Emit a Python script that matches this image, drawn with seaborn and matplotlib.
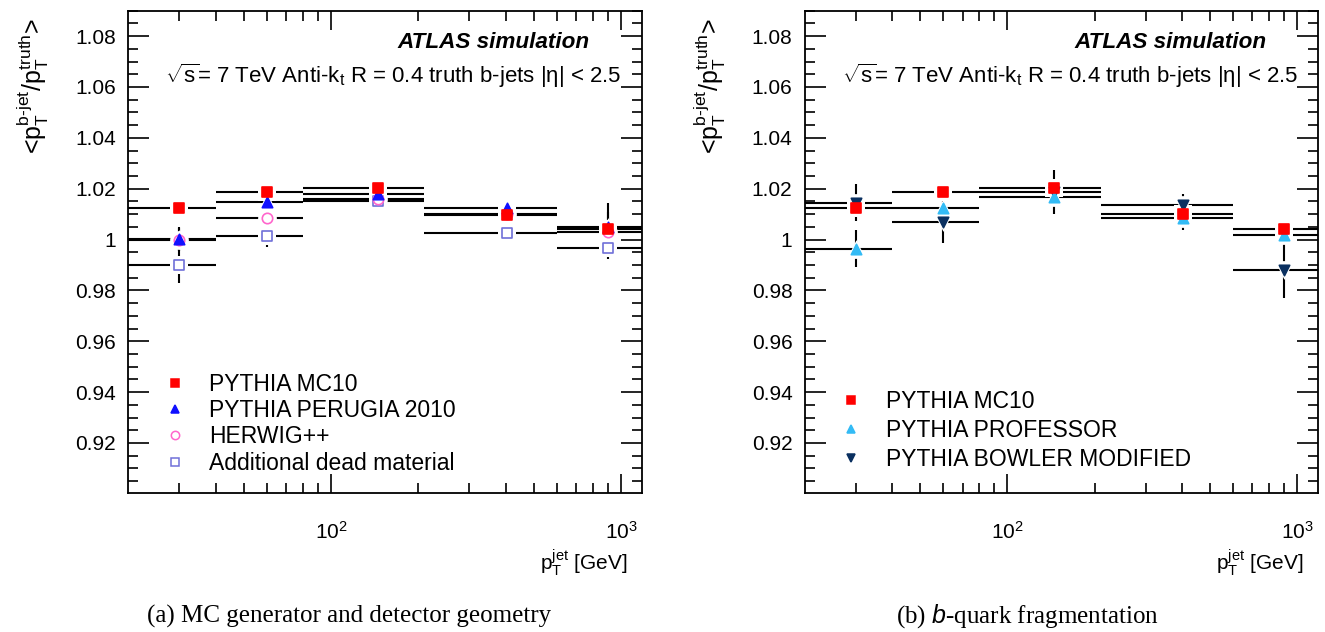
import numpy as np
import pandas as pd
import matplotlib
matplotlib.use("Agg")
import matplotlib.pyplot as plt
from matplotlib.lines import Line2D
from matplotlib.ticker import FixedLocator, NullFormatter, FuncFormatter
import seaborn as sns

# ---------------- data ----------------
bin_edges = [20, 40, 80, 210, 600, 1200]
bin_centers = [30, 60, 145, 405, 900]

# panel (a)
mc10_a = [1.0123, 1.0188, 1.0202, 1.0098, 1.0043]
mc10_a_err = [0.0006, 0.0006, 0.0006, 0.0006, 0.0006]
perugia = [1.0002, 1.0149, 1.0180, 1.0125, 1.0049]
perugia_err = [0.0047, 0.0010, 0.0010, 0.0008, 0.0095]
herwig = [1.0000, 1.0084, 1.0159, 1.0102, 1.0030]
herwig_err = [0.0045, 0.0034, 0.0010, 0.0008, 0.0080]
deadmat = [0.9899, 1.0014, 1.0153, 1.0026, 0.9966]
deadmat_err = [0.0069, 0.0045, 0.0035, 0.0008, 0.0042]

# panel (b)
mc10_b = [1.0125, 1.0188, 1.0202, 1.0102, 1.0042]
mc10_b_err = [0.0006, 0.0006, 0.0006, 0.0006, 0.0006]
professor = [0.9963, 1.0124, 1.0167, 1.0085, 1.0018]
professor_err = [0.0073, 0.0015, 0.0012, 0.0049, 0.0010]
bowler = [1.0144, 1.0069, 1.0187, 1.0135, 0.9880]
bowler_err = [0.0073, 0.0082, 0.0085, 0.0043, 0.0110]

labels_a = ["PYTHIA MC10", "PYTHIA PERUGIA 2010", "HERWIG++", "Additional dead material"]
labels_b = ["PYTHIA MC10", "PYTHIA PROFESSOR", "PYTHIA BOWLER MODIFIED"]

y_major = [0.92, 0.94, 0.96, 0.98, 1.00, 1.02, 1.04, 1.06, 1.08]

# ---------------- style ----------------
sns.set_theme(style="ticks")
plt.rcParams['font.family'] = ['Liberation Sans', 'DejaVu Sans']
plt.rcParams['mathtext.fontset'] = 'custom'
plt.rcParams['mathtext.rm'] = 'Liberation Sans'
plt.rcParams['mathtext.it'] = 'Liberation Sans:italic'
plt.rcParams['mathtext.bf'] = 'Liberation Sans:bold'
plt.rcParams['mathtext.sf'] = 'Liberation Sans'
plt.rcParams['text.color'] = 'black'
plt.rcParams['axes.labelcolor'] = 'black'
plt.rcParams['xtick.color'] = 'black'
plt.rcParams['ytick.color'] = 'black'

fig = plt.figure(figsize=(13.25, 6.32), dpi=100)
ax_a = fig.add_axes([0.0968, 0.2199, 0.3877, 0.7632])
ax_b = fig.add_axes([0.6075, 0.2199, 0.3872, 0.7632])

series_a = [
    (labels_a[3], deadmat, deadmat_err, 's', 'white', '#7070d8', 7.2),
    (labels_a[2], herwig, herwig_err, 'o', 'white', '#ff66cc', 7.5),
    (labels_a[1], perugia, perugia_err, '^', '#1010ff', '#1010ff', 7.5),
    (labels_a[0], mc10_a, mc10_a_err, 's', '#ff0000', '#ff0000', 7.2),
]
series_b = [
    (labels_b[2], bowler, bowler_err, 'v', '#0a3060', '#0a3060', 7.5),
    (labels_b[1], professor, professor_err, '^', '#33bbf5', '#33bbf5', 7.5),
    (labels_b[0], mc10_b, mc10_b_err, 's', '#ff0000', '#ff0000', 7.2),
]

lo_edges = bin_edges[:-1]
hi_edges = bin_edges[1:]


def draw_panel(ax, series):
    # bin-width lines and error bars
    for name, vals, errs, mk, fc, ec, ms in series:
        ax.hlines(vals, lo_edges, hi_edges, colors='black', lw=1.5, zorder=2)
        v = np.array(vals)
        e = np.array(errs)
        ax.vlines(bin_centers, v - e, v + e, colors='black', lw=1.5, zorder=2)
    # white halos to make the ROOT-style gaps around markers
    for name, vals, errs, mk, fc, ec, ms in series:
        df = pd.DataFrame({"x": bin_centers, "y": vals})
        sns.scatterplot(data=df, x="x", y="y", ax=ax, marker=mk, s=(ms + 6) ** 2,
                        color='white', edgecolor='white', linewidth=0, zorder=3, legend=False)
    # markers
    for i, (name, vals, errs, mk, fc, ec, ms) in enumerate(series):
        df = pd.DataFrame({"x": bin_centers, "y": vals})
        sns.scatterplot(data=df, x="x", y="y", ax=ax, marker=mk, s=ms ** 2,
                        color=fc, edgecolor=ec, linewidth=1.2, zorder=4 + i, legend=False)

    ax.set_xscale('log')
    ax.set_xlim(20, 1180)
    ax.set_ylim(0.9003, 1.09)
    ax.set_xticks([100, 1000])
    ax.set_xticklabels([r'$10^{2}$', r'$10^{3}$'])
    minors = [30, 40, 50, 60, 70, 80, 90, 200, 300, 400, 500, 600, 700, 800, 900]
    ax.xaxis.set_minor_locator(FixedLocator(minors))
    ax.xaxis.set_minor_formatter(NullFormatter())
    ax.set_yticks(y_major)
    ax.yaxis.set_major_formatter(FuncFormatter(lambda v, p: f"{v:g}"))
    ax.yaxis.set_minor_locator(FixedLocator(np.arange(0.905, 1.0901, 0.005)))
    ax.tick_params(axis='both', which='both', direction='in', top=True, right=True,
                   color='black', labelcolor='black', width=1.2)
    ax.tick_params(axis='y', which='major', length=15, labelsize=15, pad=9)
    ax.tick_params(axis='y', which='minor', length=7.5)
    ax.tick_params(axis='x', which='major', length=14, labelsize=15, pad=20)
    ax.tick_params(axis='x', which='minor', length=7)
    for sp in ax.spines.values():
        sp.set_linewidth(1.3)
        sp.set_color('black')
    ax.set_xlabel(r'p$_{\mathrm{T}}^{\mathrm{jet}}$ [GeV]', fontsize=15, ha='right')
    ax.xaxis.set_label_coords(0.972, -0.112)
    ax.set_ylabel(r'<p$_{\mathrm{T}}^{\mathrm{b\text{-}jet}}$/p$_{\mathrm{T}}^{\mathrm{truth}}$>',
                  fontsize=18, ha='right')
    ax.yaxis.set_label_coords(-0.15, 0.985)
    ax.text(0.899, 0.935, 'ATLAS simulation', transform=ax.transAxes, ha='right', va='center',
            fontsize=16.2, fontweight='bold', fontstyle='italic')
    ax.text(0.0713, 0.865,
            r'$\sqrt{\mathrm{s}}$= 7 TeV Anti-k$_{\mathrm{t}}$ R = 0.4 truth b-jets |$\mathrm{\eta}$| < 2.5',
            transform=ax.transAxes, ha='left', va='center', fontsize=16.0)


draw_panel(ax_a, series_a)
draw_panel(ax_b, series_b)

# legends
def legend_handles(series, order):
    hs = []
    for idx in order:
        name, vals, errs, mk, fc, ec, ms = series[idx]
        hs.append(Line2D([], [], linestyle='none', marker=mk, markersize=6,
                         markerfacecolor=fc, markeredgecolor=ec, markeredgewidth=1.1, label=name))
    return hs

ax_a.legend(handles=legend_handles(series_a, [3, 2, 1, 0]), loc='upper left',
            bbox_to_anchor=(0.05, 0.268), frameon=False, fontsize=16.5,
            handlelength=1.0, handletextpad=1.0, labelspacing=0.14, borderaxespad=0)
ax_b.legend(handles=legend_handles(series_b, [2, 1, 0]), loc='upper left',
            bbox_to_anchor=(0.05, 0.232), frameon=False, fontsize=16.5,
            handlelength=1.0, handletextpad=1.0, labelspacing=0.25, borderaxespad=0)

serif = ['Liberation Serif', 'DejaVu Serif']
fig.text(349 / 1325, 1 - 616 / 632, '(a) MC generator and detector geometry',
         ha='center', va='center', fontsize=18, family=serif)
fig.text(1027 / 1325, 1 - 616 / 632, r'(b) $\mathit{b}$-quark fragmentation',
         ha='center', va='center', fontsize=18, family=serif)

fig.savefig('out.png', dpi=100)
